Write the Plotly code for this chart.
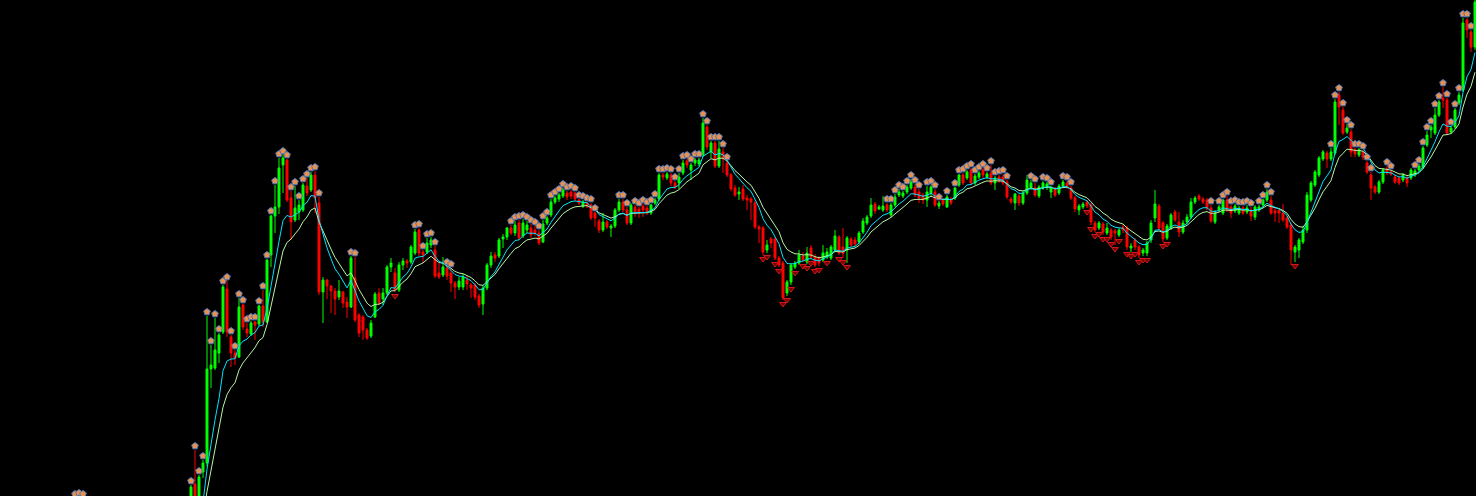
import plotly.graph_objects as go
import pandas as pd

# ---- data (price units) ----
open_ = [
    195,198,200,196,190,184,178,181,172,166,
    169,160,154,157,148,142,145,138,134,140,
    132,128,135,140,134,142,148,144,152,170,
    216,195,228,237,331,332,347,368,411,363,
    347,343,395,371,366,378,376,394,378,445,
    484,493,535,540,502,480,488,490,514,510,
    525,497,408,420,414,409,403,408,398,393,
    422,385,383,370,364,383,407,401,407,433,
    427,410,435,439,438,447,470,448,448,455,
    450,427,425,432,427,417,413,413,420,415,
    415,404,396,412,435,445,444,461,463,472,
    467,477,464,470,472,470,467,458,477,485,
    498,501,504,507,508,507,500,494,497,495,
    487,479,470,478,472,474,490,498,490,477,
    493,491,494,492,487,497,501,525,522,525,
    517,517,527,539,530,537,536,545,573,548,
    557,534,548,537,525,512,506,511,502,501,
    497,473,472,450,461,461,442,437,407,418,
    433,437,444,438,452,443,442,440,443,442,
    450,463,453,450,461,460,458,468,477,484,
    496,491,490,495,485,495,505,504,508,512,
    513,508,505,500,507,508,494,500,493,501,
    502,515,525,522,530,517,523,530,523,527,
    517,523,523,518,501,497,504,497,507,512,
    512,504,512,513,508,511,507,514,517,512,
    502,490,493,498,495,477,472,476,467,470,
    469,465,473,472,452,460,453,447,447,460,
    482,494,477,462,472,488,478,468,478,483,
    498,504,501,500,492,478,490,487,500,493,
    489,487,492,488,490,483,490,495,500,500,
    489,490,487,482,475,448,450,458,470,500,
    515,525,541,547,541,547,605,590,568,568,
    550,545,548,537,525,513,508,518,531,528,
    523,522,520,522,522,525,530,533,555,570,
    567,585,602,600,568,573,597,610,680,668,653,
]
high = [
    202,203,202,198,192,186,185,183,174,171,
    171,162,159,159,150,147,147,140,142,142,
    134,137,142,142,144,150,150,154,157,215,
    250,225,240,384,355,382,367,415,419,365,
    350,402,396,377,379,379,395,410,441,485,
    515,542,545,541,509,514,500,517,522,528,
    529,503,423,421,415,412,420,409,403,444,
    443,387,385,372,380,408,412,412,435,442,
    432,438,442,441,455,471,472,450,462,463,
    454,437,443,434,432,419,423,426,424,417,
    417,406,415,437,448,448,462,466,473,475,
    479,480,481,479,476,474,470,480,484,501,
    504,507,512,509,510,508,501,500,498,497,
    488,481,487,480,476,492,501,501,493,497,
    495,493,496,494,496,502,527,527,528,527,
    519,527,540,541,537,542,542,582,575,559,
    559,559,552,539,527,515,513,515,505,503,
    499,475,474,460,463,463,444,439,420,437,
    439,450,448,453,455,446,444,455,452,455,
    470,465,472,464,463,463,469,482,485,502,
    498,495,504,497,497,506,511,509,515,521,
    516,511,507,514,515,511,499,502,505,503,
    513,526,527,530,532,526,529,532,528,535,
    524,525,526,520,503,507,506,509,525,520,
    517,515,519,518,514,513,516,520,519,514,
    504,496,498,500,497,479,479,478,477,472,
    471,472,475,474,457,462,455,452,459,480,
    510,496,479,476,487,490,488,480,486,502,
    504,506,503,502,495,490,495,501,504,495,
    496,494,494,495,493,495,495,501,511,504,
    493,492,496,484,477,455,462,474,508,519,
    530,544,550,549,552,601,608,593,576,571,
    552,552,550,539,528,515,520,532,534,530,
    525,524,527,524,532,531,536,554,569,575,
    592,600,613,602,574,592,608,682,682,670,700,
]
low = [
    190,194,192,188,181,175,176,169,163,164,
    157,151,152,145,139,140,135,131,132,129,
    125,126,133,131,132,140,141,142,149,165,
    190,192,222,234,312,330,337,366,363,333,
    335,342,370,363,364,360,374,373,377,433,
    467,486,507,498,460,478,480,488,504,508,
    487,405,377,401,387,385,400,392,382,392,
    378,363,360,360,362,382,395,395,405,428,
    408,408,430,432,436,445,444,437,446,452,
    422,421,423,420,408,401,410,410,410,402,
    400,392,385,410,432,438,442,452,460,465,
    464,460,462,467,462,464,455,457,475,483,
    496,498,502,500,501,499,495,492,492,480,
    473,467,468,471,463,472,488,488,475,475,
    483,482,483,485,485,495,499,520,520,514,
    511,511,525,532,520,534,534,543,550,542,
    532,532,527,523,509,503,500,499,490,480,
    471,457,445,447,452,440,433,400,404,415,
    431,435,438,436,441,433,434,438,441,440,
    448,445,442,437,453,454,456,466,475,482,
    486,490,488,488,483,493,503,502,506,510,
    503,497,496,493,504,493,491,494,492,495,
    500,513,515,520,515,515,521,522,521,515,
    510,517,515,501,496,490,494,495,505,510,
    503,502,510,510,502,503,505,512,511,500,
    488,485,491,492,475,468,470,465,465,460,
    455,463,467,450,448,450,442,444,444,457,
    478,470,458,460,470,478,463,466,476,481,
    496,499,496,490,477,476,488,485,488,482,
    487,485,485,486,479,480,488,493,498,485,
    478,477,478,471,435,438,442,456,467,498,
    513,523,539,532,539,545,575,565,566,543,
    543,543,540,526,500,506,506,516,525,524,
    516,515,518,513,520,523,528,531,553,562,
    565,583,592,565,566,571,595,608,662,648,650,
]
close = [
    200,201,196,190,184,178,181,172,166,169,
    160,154,157,148,142,145,138,134,140,132,
    128,135,140,134,142,148,144,152,155,213,
    195,223,237,331,335,350,365,413,368,347,
    342,393,373,367,377,375,394,378,440,484,
    493,532,542,500,478,492,495,515,507,525,
    502,408,420,414,409,401,409,397,393,442,
    380,367,370,362,377,406,397,407,433,437,
    410,435,439,437,453,468,447,445,457,460,
    424,423,433,424,417,413,419,423,416,412,
    403,395,412,435,444,442,460,463,472,467,
    475,462,477,475,465,467,457,476,482,498,
    502,505,510,503,504,501,497,498,494,482,
    482,470,478,473,474,490,498,490,477,495,
    488,487,490,487,495,500,525,523,526,517,
    513,523,537,535,535,540,540,577,553,557,
    534,551,541,525,511,505,508,501,500,498,
    473,471,448,455,457,442,435,402,418,435,
    437,445,440,447,443,435,437,447,448,453,
    464,447,447,462,455,456,467,479,483,495,
    489,493,494,490,495,503,508,507,513,518,
    505,502,500,508,513,495,497,496,503,497,
    512,525,517,528,517,524,527,525,526,517,
    522,519,517,503,498,506,497,507,520,517,
    505,513,517,516,512,505,514,518,513,502,
    491,494,496,494,478,470,477,468,472,463,
    467,470,470,453,454,453,445,450,457,477,
    496,472,461,474,485,480,468,477,483,498,
    502,501,498,492,479,487,493,500,490,487,
    494,492,487,492,484,493,493,500,508,487,
    487,487,480,473,450,453,460,470,505,517,
    528,542,548,541,548,598,593,567,572,548,
    546,550,543,528,512,508,518,530,527,526,
    518,517,525,517,530,529,534,552,565,573,
    585,598,600,567,572,590,605,677,670,653,698,
]
up_signal = ([0, 1, 2] + list(range(29, 62)) + [69, 70] + list(range(85, 91)) + [93, 94]
             + list(range(109, 131)) + [136, 137, 138] + list(range(140, 164))
             + list(range(203, 212)) + [213, 214, 215, 216, 218] + list(range(220, 234))
             + [239, 240, 242, 243, 244, 247, 248, 249, 284] + list(range(286, 295))
             + [296, 297, 298, 299] + list(range(314, 325)) + [328, 329] + list(range(335, 350)))
down_signal = [80, 172, 173, 175, 176, 177, 178, 179, 180, 182, 183, 184, 185, 186, 188,
               191, 192, 193, 253, 254, 255, 256, 257, 258, 259, 260, 261, 263, 264, 265,
               266, 267, 268, 272, 273, 305]

idx = list(range(len(close)))
s = pd.Series(close, dtype=float)
ma_fast = s.ewm(span=7, adjust=False).mean()
ma_slow = s.ewm(span=11, adjust=False).mean()

fig = go.Figure()
fig.add_trace(go.Candlestick(
    x=idx, open=open_, high=high, low=low, close=close,
    increasing=dict(line=dict(color="#00ff00", width=1), fillcolor="#00ff00"),
    decreasing=dict(line=dict(color="#ff0000", width=1), fillcolor="#ff0000"),
    whiskerwidth=0, hoverinfo="skip", showlegend=False,
))
fig.add_trace(go.Scatter(x=idx, y=ma_slow, mode="lines",
                         line=dict(color="#b8f5a8", width=1), hoverinfo="skip"))
fig.add_trace(go.Scatter(x=idx, y=ma_fast, mode="lines",
                         line=dict(color="#00e5ff", width=1), hoverinfo="skip"))
fig.add_trace(go.Scatter(
    x=up_signal, y=[high[i] + 4 for i in up_signal], mode="markers",
    marker=dict(symbol="pentagon", size=7, color="#e8904c",
                line=dict(color="#4a78c0", width=1)),
    hoverinfo="skip"))
fig.add_trace(go.Scatter(
    x=down_signal, y=[low[i] - 4 for i in down_signal], mode="markers",
    marker=dict(symbol="triangle-down", size=6, color="#7a0000",
                line=dict(color="#d01818", width=1)),
    hoverinfo="skip"))

fig.update_layout(
    width=1476, height=496, margin=dict(l=0, r=0, t=0, b=0),
    paper_bgcolor="black", plot_bgcolor="black", showlegend=False,
    xaxis=dict(visible=False, range=[-18.75, 350.25], rangeslider=dict(visible=False)),
    yaxis=dict(visible=False, range=[204, 700]),
)
fig.write_html("out.html", config={"displayModeBar": False},
               post_script="document.body.style.margin='0';")
